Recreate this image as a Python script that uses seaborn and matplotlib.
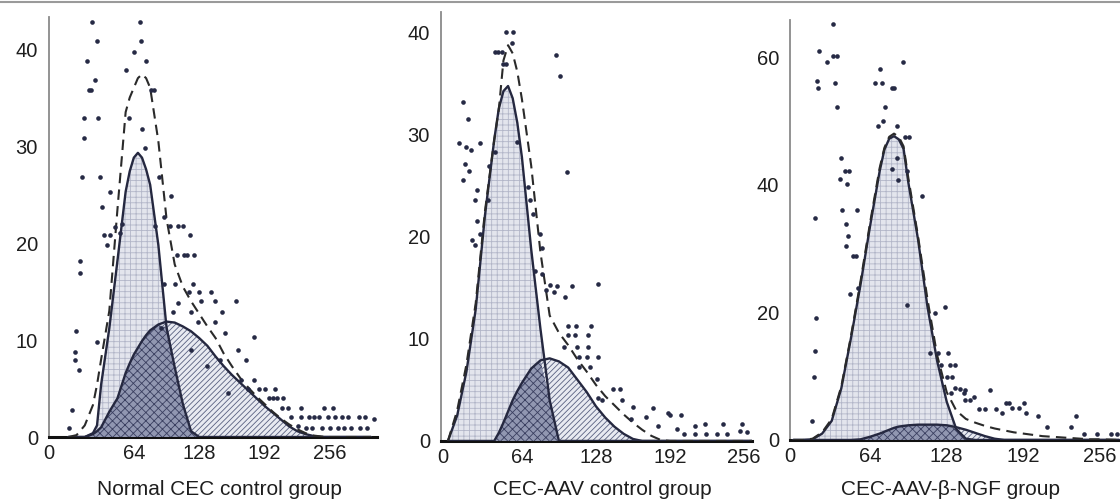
import numpy as np
import matplotlib
matplotlib.use("Agg")
import matplotlib.pyplot as plt
from matplotlib.lines import Line2D
import seaborn as sns

# ---- panel 1: Normal CEC control group ----
p1_grid = [0, 8, 16, 24, 28, 32, 40, 48, 56, 60, 64, 68, 72, 76, 80, 88, 96, 104, 112, 120, 128,
           136, 144, 152, 160, 168, 176, 184, 192, 200, 208, 216, 224, 232, 240, 248, 256, 272, 296]
p1_g1 = [0, 0, 0, 0.4, 1.2, 5.4, 11.2, 18.2, 25.3, 27.4, 28.8, 29.3, 28.8, 27.6, 26.0, 19.8, 11.3,
         7.2, 3.4, 0.6, 0, 0, 0, 0, 0, 0, 0, 0, 0, 0, 0, 0, 0, 0, 0, 0, 0, 0, 0]
p1_g2 = [0, 0, 0, 0.3, 0.6, 1.0, 2.6, 4.0, 6.6, 7.6, 8.5, 9.2, 9.9, 10.5, 11.0, 11.6, 11.9,
         11.8, 11.4, 10.9, 10.2, 9.4, 8.3, 7.3, 6.4, 5.6, 4.8, 4.0, 3.2, 2.5, 1.8, 1.1, 0.6,
         0.3, 0.1, 0, 0, 0, 0]
p1_fit = [0, 0.2, 1.2, 3.3, 5.4, 8.0, 13.0, 23.5, 33.5, 35.0, 36.0, 37.0, 37.4, 37.0, 36.0, 30.5,
          22.5, 17.8, 15.5, 14.0, 12.7, 11.4, 10.2, 8.6, 7.3, 6.1, 5.1, 4.2, 3.4, 2.6, 1.9, 1.3,
          0.8, 0.4, 0.15, 0.05, 0, 0, 0]
p1_px = [23, 70, 28, 71, 64, 18, 76, 56, 26, 20, 22, 81, 84, 15, 29, 59, 72, 15, 75, 13.5, 30.6,
         89, 100, 33, 94, 85, 99, 107, 35, 41, 119, 38, 106, 113, 123, 94, 104, 122, 118, 128,
         140, 130, 143, 164, 107, 120, 150, 102, 143, 127, 153, 166, 174, 148, 169, 182, 192,
         202, 210, 209, 215, 228, 250, 259, 218, 245, 261, 274, 299, 225, 248, 264, 277, 292,
         0.4, 3.7, 6, 6, 7.6, 11, 11, 10, 28, 41, 46, 91, 120, 182, 156, 136, 196, 200, 204,
         176, 186, 228, 235, 240, 254, 268, 284, 290, 232, 238, 256, 270, 285, 52, 50, 112, 116]
p1_py = [42.8, 42.8, 40.8, 40.8, 39.7, 38.8, 38.8, 37.8, 36.8, 35.8, 35.8, 35.8, 35.8, 32.9, 32.9,
         32.9, 31.8, 30.8, 29.8, 26.8, 26.8, 26.8, 24.8, 23.7, 22.7, 21.8, 21.8, 21.8, 20.8,
         20.8, 20.8, 19.8, 18.8, 18.8, 18.8, 15.8, 15.8, 15.8, 14.9, 14.9, 14.9, 14.0, 14.0,
         14.0, 13.8, 12.9, 12.9, 12.9, 11.9, 11.9, 10.7, 9.0, 7.9, 7.9, 5.9, 5.9, 5.0, 5.0, 4.0,
         3.0, 3.0, 3.0, 3.0, 3.0, 2.1, 2.1, 2.1, 2.1, 1.9, 1.1, 0.9, 0.9, 0.9, 0.9, 0.9, 2.8,
         8.8, 7.9, 10.9, 18.1, 16.9, 6.9, 9.8, 25.3, 21.7, 11.2, 9.0, 10.3, 4.5, 7.3, 4.0, 4.0,
         4.0, 5.0, 5.0, 2.1, 2.1, 2.1, 2.1, 2.1, 2.1, 2.1, 0.9, 0.9, 0.9, 0.9, 0.9, 22.0, 21.0,
         21.8, 18.8]

# ---- panel 2: CEC-AAV control group ----
p2_grid = [0, 8, 16, 24, 32, 40, 44, 48, 52, 56, 60, 64, 72, 80, 88, 96, 104, 112, 120, 128,
           136, 144, 152, 160, 168, 176, 184, 192, 224, 264]
p2_g1 = [0, 2.5, 6.8, 12.9, 22.1, 29.5, 32.6, 34.3, 34.8, 33.6, 31.2, 27.8, 18.8, 11.0, 4.0,
         0, 0, 0, 0, 0, 0, 0, 0, 0, 0, 0, 0, 0, 0, 0]
p2_g2 = [0, 0, 0, 0, 0, 0, 0.8, 1.8, 2.9, 4.0, 4.9, 5.7, 7.1, 7.9, 8.1, 7.8, 7.2, 6.0, 4.8,
         3.4, 2.3, 1.4, 0.7, 0.2, 0, 0, 0, 0, 0, 0]
p2_fit = [0, 3.0, 7.5, 13.5, 22.5, 29.5, 32.5, 37.3, 38.8, 38.0, 36.2, 33.5, 27.0, 18.5, 12.3,
          10.6, 9.4, 8.0, 6.8, 5.5, 4.4, 3.5, 2.6, 1.8, 1.1, 0.5, 0.1, 0, 0, 0]
p2_px = [50, 56.5, 40.6, 43.5, 46.4, 48, 50, 55, 93.4, 96.9, 12.7, 17.6, 10, 15.6, 19.6, 27.7,
         15, 18.5, 12.7, 24.8, 23.3, 24.8, 20.5, 23.3, 35.7, 40.6, 34.3, 27.7, 59.4, 69.5, 70.9,
         73.2, 79.6, 81.6, 75.2, 81.6, 88.2, 94, 107, 130, 102.6, 85, 91.6, 101.2, 104, 111,
         124, 104, 110, 121.5, 100, 111.5, 121.5, 113, 120, 130, 113, 123, 128.6, 143, 148.8,
         130, 133, 150.5, 159.7, 177.5, 192, 202, 158.5, 171.5, 182, 198, 204, 214, 223, 233,
         241, 253, 259, 222, 238, 254, 213.7, 190.6]
p2_py = [40.1, 40.1, 38.1, 38.1, 38.1, 37.0, 37.0, 39.0, 37.8, 35.8, 33.2, 31.6, 29.2, 28.8,
         28.5, 29.2, 27.2, 26.5, 25.6, 24.6, 23.6, 21.6, 19.7, 19.2, 27.0, 28.3, 23.6, 20.3,
         29.3, 24.9, 23.6, 22.3, 20.3, 18.9, 16.7, 16.4, 15.3, 15.2, 15.2, 15.4, 26.4, 14.8,
         14.6, 14.1, 11.3, 11.3, 11.3, 10.4, 10.4, 10.4, 9.2, 9.2, 9.2, 8.2, 8.2, 8.2, 7.3, 7.3,
         6.1, 5.1, 5.1, 4.2, 4.0, 4.0, 3.3, 3.2, 2.5, 2.5, 2.2, 2.4, 1.5, 1.2, 0.7, 0.7, 0.7,
         0.7, 0.7, 1.0, 0.9, 1.7, 1.7, 1.7, 1.5, 2.7]

# ---- panel 3: CEC-AAV-β-NGF group ----
p3_grid = [0, 8, 16, 24, 32, 40, 48, 56, 64, 72, 76, 80, 84, 88, 92, 96, 104, 112, 120, 128,
           136, 144, 152, 160, 168, 176, 184, 192, 200, 208, 216, 224, 232, 240, 248, 256, 272]
p3_g1 = [0, 0, 0.1, 1.0, 3.0, 8.1, 15.9, 24.3, 33.5, 42.1, 45.5, 47.2, 47.6, 47.1, 45.6, 40.3,
         31.5, 20.8, 12.4, 6.0, 1.7, 0.2, 0, 0, 0, 0, 0, 0, 0, 0, 0, 0, 0, 0, 0, 0, 0]
p3_g2 = [0, 0, 0, 0, 0, 0, 0, 0.1, 0.5, 1.0, 1.3, 1.6, 1.9, 2.1, 2.2, 2.3, 2.4, 2.4, 2.4, 2.3,
         2.0, 1.6, 1.1, 0.6, 0.2, 0, 0, 0, 0, 0, 0, 0, 0, 0, 0, 0, 0]
p3_fit = [0, 0, 0.2, 1.2, 3.3, 8.4, 16.2, 24.8, 34.0, 42.6, 45.8, 47.5, 48.0, 47.5, 46.0, 41.0,
          32.0, 22.0, 13.3, 7.5, 4.6, 3.3, 2.7, 2.2, 1.8, 1.5, 1.2, 1.0, 0.8, 0.6, 0.5, 0.4,
          0.3, 0.2, 0.1, 0.1, 0]
p3_px = [33.4, 21.7, 27.8, 33.4, 36.7, 19.5, 20.9, 34.8, 36.7, 68.2, 73.7, 72.3, 91.8, 82, 84,
         76.5, 71, 75, 86.8, 93.2, 96.8, 86.3, 82, 87.6, 94.6, 39.5, 43, 46.7, 39, 44.5, 40.3,
         52.9, 44, 45.9, 50, 52.3, 44, 47.3, 54.3, 18.4, 18.9, 18, 17.3, 15.3, 107, 94.6, 126.6,
         118.3, 114, 121, 129.4, 123.6, 130.5, 134.7, 128, 132.2, 135, 139, 143.3, 131.6,
         142.7, 151, 143.3, 147.5, 164.2, 155, 160, 168.8, 174.4, 182.7, 188.3, 193.8, 177.2,
         180, 192.4, 204, 212, 231.5, 242.7, 253.8, 265, 270.5, 236]
p3_py = [65.2, 61.0, 59.2, 60.2, 60.2, 56.3, 55.1, 56.0, 52.1, 56.0, 56.0, 58.1, 59.2, 55.1,
         55.1, 52.1, 49.2, 50.0, 49.2, 47.4, 47.4, 44.2, 42.4, 40.8, 42.1, 44.1, 42.1, 42.1,
         40.9, 40.1, 36.0, 36.0, 33.8, 31.9, 28.8, 28.8, 30.4, 22.8, 23.8, 34.8, 19.1, 13.9,
         9.9, 2.9, 38.2, 21.2, 20.9, 19.9, 13.7, 13.7, 13.7, 11.8, 11.8, 11.8, 9.9, 9.9, 8.2,
         8.0, 7.9, 7.3, 7.3, 6.8, 6.3, 6.3, 7.9, 4.8, 4.8, 4.8, 4.2, 5.0, 5.0, 4.2, 5.8, 5.8,
         5.8, 3.7, 2.1, 2.1, 1.0, 1.0, 1.0, 1.0, 3.7]

labels = ["Normal CEC control group", "CEC-AAV control group", "CEC-AAV-β-NGF group"]

sns.set_theme(style="white")
plt.rcParams["font.family"] = ["Liberation Sans", "DejaVu Sans"]
plt.rcParams["hatch.linewidth"] = 0.6

fig = plt.figure(figsize=(11.2, 5.01), dpi=100)

panels = [
    dict(rect=[0.04375, 0.1277, 0.2929, 0.8383], xlim=(-19, 302), ylim=(0, 43.3),
         yticks=[0, 10, 20, 30, 40], xpos=[-19, 64, 128, 192, 256], lx=0.1955,
         grid=p1_grid, g1=p1_g1, g2=p1_g2, fit=p1_fit, px=p1_px, py=p1_py),
    dict(rect=[0.39375, 0.1198, 0.2777, 0.8563], xlim=(-6, 263), ylim=(0, 42.06),
         yticks=[0, 10, 20, 30, 40], xpos=[-4, 64, 128, 192, 256], lx=0.5375,
         grid=p2_grid, g1=p2_g1, g2=p2_g2, fit=p2_fit, px=p2_px, py=p2_py),
    dict(rect=[0.7054, 0.1218, 0.2946, 0.8383], xlim=(-2.8, 272.7), ylim=(0, 65.8),
         yticks=[0, 20, 40, 60], xpos=[-2.8, 64, 128, 192, 256], lx=0.849,
         grid=p3_grid, g1=p3_g1, g2=p3_g2, fit=p3_fit, px=p3_px, py=p3_py),
]

line_col = "#252840"
for p, label in zip(panels, labels):
    ax = fig.add_axes(p["rect"])
    x = np.array(p["grid"], dtype=float)
    g1 = np.array(p["g1"])
    g2 = np.array(p["g2"])
    ax.fill_between(x, 0, g1, facecolor="#e3e5ed", edgecolor="#b2b6c8", hatch="+++", lw=0, zorder=1)
    ax.fill_between(x, 0, g2, facecolor="#e8eaf1", edgecolor="#596080", hatch="//////", lw=0, zorder=2)
    ax.fill_between(x, 0, np.minimum(g1, g2), facecolor="#9197b1", edgecolor="#3a3f60",
                    hatch="xxxx", lw=0, zorder=3)
    sns.lineplot(x=x, y=g1, ax=ax, color=line_col, lw=1.7, estimator=None, sort=False, zorder=4)
    sns.lineplot(x=x, y=g2, ax=ax, color=line_col, lw=1.7, estimator=None, sort=False, zorder=4)
    sns.lineplot(x=x, y=p["fit"], ax=ax, color="#2a2a2a", lw=1.5, estimator=None, sort=False,
                 linestyle=(0, (5, 3)), zorder=5)
    sns.scatterplot(x=p["px"], y=p["py"], ax=ax, marker="o", s=11, color="#262a45",
                    linewidth=0, zorder=6)

    ax.set_xlim(*p["xlim"])
    ax.set_ylim(*p["ylim"])
    ax.set_xticks(p["xpos"])
    ax.set_xticklabels(["0", "64", "128", "192", "256"])
    ax.set_yticks(p["yticks"])
    ax.tick_params(axis="y", length=3, direction="in", color="#888888", labelsize=14.5,
                   pad=8, labelcolor="#1e1e1e")
    ax.tick_params(axis="x", length=0, labelsize=14.5, pad=5, labelcolor="#1e1e1e")
    ax.set_xlabel("")
    ax.set_ylabel("")
    sns.despine(ax=ax)
    ax.spines["left"].set_color("#8a8a8a")
    ax.spines["left"].set_linewidth(1.3)
    ax.spines["bottom"].set_color("#111111")
    ax.spines["bottom"].set_linewidth(2.2)
    ax.set_facecolor("white")
    fig.text(p["lx"], 0.012, label, fontsize=15, color="#1e1e1e", ha="center", va="baseline")

fig.add_artist(Line2D([0, 1], [0.997, 0.997], color="#9a9a9a", lw=1.5))

fig.savefig("out.png", dpi=100)
